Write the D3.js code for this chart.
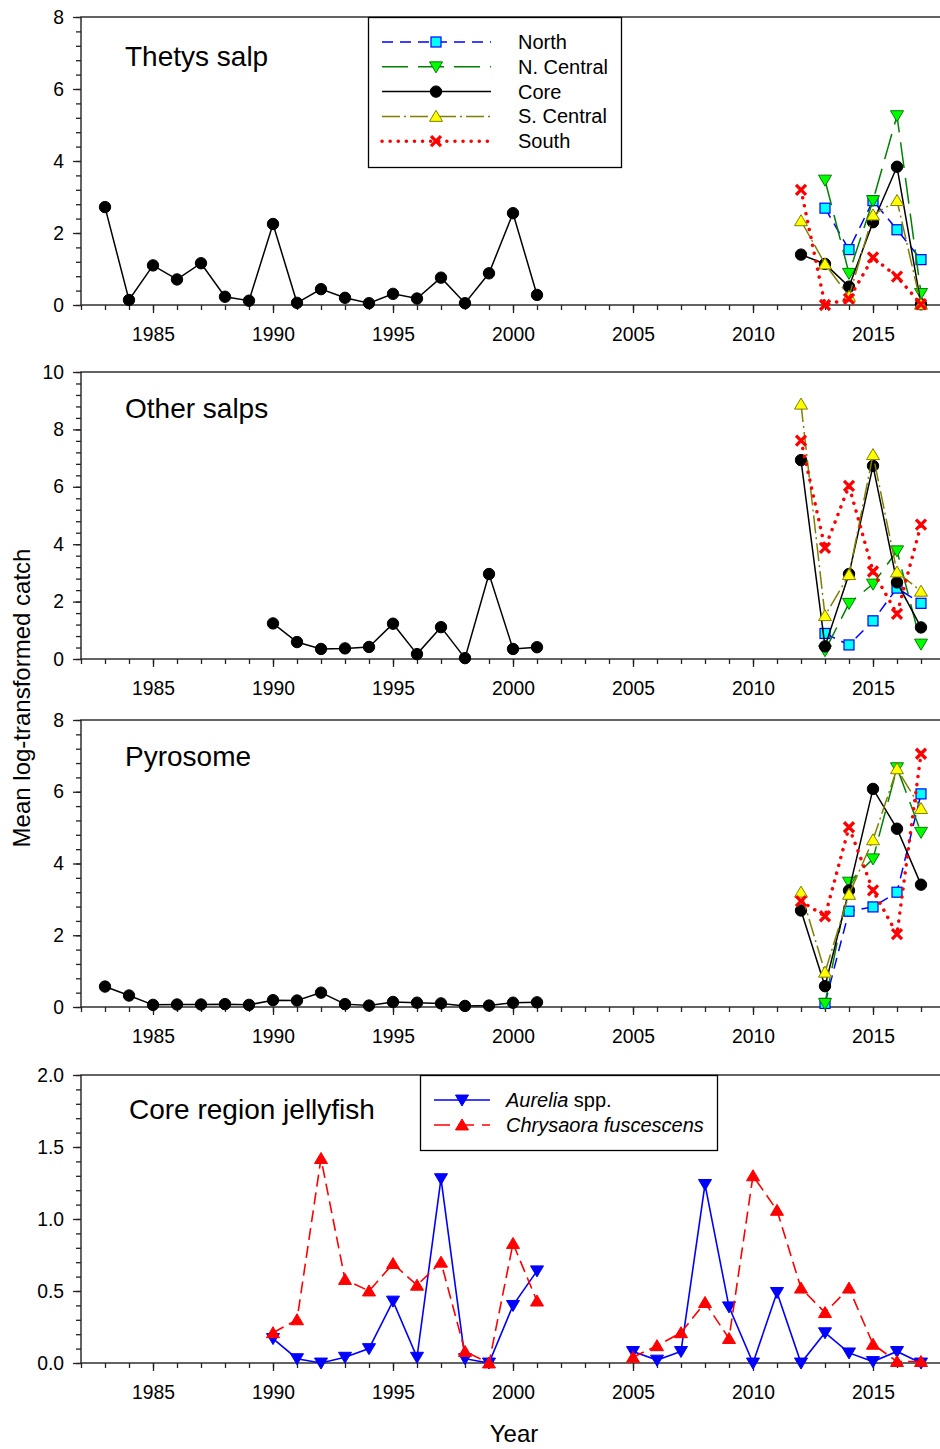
<!DOCTYPE html>
<html>
<head>
<meta charset="utf-8">
<script src="https://cdn.jsdelivr.net/npm/d3@7"></script>
<style>
body { margin: 0; background: #fff; }
svg { font-family: "Liberation Sans", Arial, sans-serif; }
.frame { fill: none; stroke: #222; stroke-width: 1.4; }
.tick line { stroke: #222; stroke-width: 1.3; }
.domain { display: none; }
.tick text { font-size: 19.3px; fill: #000; }
</style>
</head>
<body>
<div id="chart"></div>
<script>

// years
var yearsHist = [1983, 1984, 1985, 1986, 1987, 1988, 1989, 1990, 1991, 1992,
                 1993, 1994, 1995, 1996, 1997, 1998, 1999, 2000, 2001];
var yearsSalpHist = [1990, 1991, 1992, 1993, 1994, 1995, 1996, 1997, 1998, 1999, 2000, 2001];
var yearsRecent = [2012, 2013, 2014, 2015, 2016, 2017];
var yearsJelly1 = [1990, 1991, 1992, 1993, 1994, 1995, 1996, 1997, 1998, 1999, 2000, 2001];
var yearsJelly2 = [2005, 2006, 2007, 2008, 2009, 2010, 2011, 2012, 2013, 2014, 2015, 2016, 2017];

var regions = ["North", "N. Central", "Core", "S. Central", "South"];

// Thetys salp
var thetysCoreHist = [2.72, 0.14, 1.10, 0.71, 1.16, 0.23, 0.12, 2.25, 0.06, 0.44,
                      0.20, 0.05, 0.31, 0.18, 0.76, 0.05, 0.88, 2.55, 0.28];
var thetysNorth    = [null, 2.69, 1.54, 2.90, 2.09, 1.26];
var thetysNCentral = [null, 3.47, 0.88, 2.90, 5.26, 0.32];
var thetysCore     = [1.40, 1.14, 0.51, 2.30, 3.84, 0.02];
var thetysSCentral = [2.34, 1.14, 0.24, 2.50, 2.90, 0.02];
var thetysSouth    = [3.20, 0.00, 0.17, 1.32, 0.79, 0.02];

// Other salps
var salpCoreHist = [1.24, 0.59, 0.35, 0.37, 0.42, 1.23, 0.17, 1.11, 0.03, 2.96, 0.35, 0.41];
var salpNorth    = [null, 0.89, 0.49, 1.33, 2.47, 1.94];
var salpNCentral = [null, 0.29, 1.94, 2.61, 3.77, 0.52];
var salpCore     = [6.93, 0.44, 2.96, 6.73, 2.67, 1.10];
var salpSCentral = [8.88, 1.51, 2.94, 7.12, 3.03, 2.36];
var salpSouth    = [7.61, 3.87, 6.03, 3.05, 1.57, 4.68];

// Pyrosome
var pyroCoreHist = [0.57, 0.32, 0.06, 0.07, 0.07, 0.08, 0.06, 0.19, 0.18, 0.40,
                    0.08, 0.04, 0.14, 0.12, 0.10, 0.03, 0.04, 0.12, 0.13];
var pyroNorth    = [null, 0.10, 2.67, 2.79, 3.20, 5.94];
var pyroNCentral = [null, 0.10, 3.48, 4.13, 6.67, 4.87];
var pyroCore     = [2.69, 0.58, 3.25, 6.08, 4.97, 3.41];
var pyroSCentral = [3.20, 0.97, 3.14, 4.66, 6.64, 5.53];
var pyroSouth    = [2.95, 2.53, 5.01, 3.25, 2.03, 7.06];

// Core region jellyfish
var aurelia1    = [0.17, 0.03, 0.00, 0.04, 0.10, 0.43, 0.04, 1.28, 0.03, 0.00, 0.40, 0.64];
var aurelia2    = [0.08, 0.02, 0.08, 1.24, 0.39, 0.00, 0.49, 0.00, 0.21, 0.07, 0.01, 0.08, 0.00];
var chrysaora1  = [0.21, 0.30, 1.42, 0.58, 0.50, 0.69, 0.54, 0.70, 0.08, 0.00, 0.83, 0.43];
var chrysaora2  = [0.04, 0.12, 0.21, 0.42, 0.17, 1.30, 1.06, 0.52, 0.35, 0.52, 0.13, 0.01, 0.01];

var xTicksMajor = [1985, 1990, 1995, 2000, 2005, 2010, 2015];

var W = 940, H = 1449;

var svg = d3.select("#chart").append("svg")
    .attr("width", W)
    .attr("height", H);

var x = d3.scaleLinear().domain([1982, 2018]).range([81, 945]);

var styles = {
  "North":      {line: "#0000ff", dash: "11,7", width: 1.5, shape: "square", fill: "#00ffff", stroke: "#0000ff"},
  "N. Central": {line: "#008000", dash: "26,10", width: 1.5, shape: "down", fill: "#00ff00", stroke: "#008000"},
  "Core":       {line: "#000000", dash: null, width: 1.5, shape: "circle", fill: "#000000", stroke: "#000000"},
  "S. Central": {line: "#808000", dash: "18,4,2,4", width: 1.5, shape: "up", fill: "#ffff00", stroke: "#808000"},
  "South":      {line: "#ff0000", dash: "0.1,8", width: 3.5, cap: "round", shape: "x", fill: "none", stroke: "#ff0000"},
  "Aurelia":    {line: "#0000ff", dash: null, width: 1.6, shape: "down", fill: "#0000ff", stroke: "#0000ff"},
  "Chrysaora":  {line: "#ff0000", dash: "12,6", width: 1.6, shape: "up", fill: "#ff0000", stroke: "#ff0000"}
};

function pairs(years, vals) {
  return years.map(function(y, i) { return {year: y, v: vals[i]}; })
    .filter(function(d) { return d.v != null; });
}

var panels = [
  {title: "Thetys salp", top: 17, bottom: 305, ymax: 8, major: 2, minor: 0.4, fmt: d3.format("d"), tx: 125, ty: 66,
   series: [
     {key: "Core", data: pairs(yearsHist, thetysCoreHist)},
     {key: "North", data: pairs(yearsRecent, thetysNorth)},
     {key: "N. Central", data: pairs(yearsRecent, thetysNCentral)},
     {key: "Core", data: pairs(yearsRecent, thetysCore)},
     {key: "S. Central", data: pairs(yearsRecent, thetysSCentral)},
     {key: "South", data: pairs(yearsRecent, thetysSouth)}
   ]},
  {title: "Other salps", top: 372, bottom: 659, ymax: 10, major: 2, minor: 0.4, fmt: d3.format("d"), tx: 125, ty: 418,
   series: [
     {key: "Core", data: pairs(yearsSalpHist, salpCoreHist)},
     {key: "North", data: pairs(yearsRecent, salpNorth)},
     {key: "N. Central", data: pairs(yearsRecent, salpNCentral)},
     {key: "Core", data: pairs(yearsRecent, salpCore)},
     {key: "S. Central", data: pairs(yearsRecent, salpSCentral)},
     {key: "South", data: pairs(yearsRecent, salpSouth)}
   ]},
  {title: "Pyrosome", top: 720, bottom: 1007, ymax: 8, major: 2, minor: 0.4, fmt: d3.format("d"), tx: 125, ty: 766,
   series: [
     {key: "Core", data: pairs(yearsHist, pyroCoreHist)},
     {key: "North", data: pairs(yearsRecent, pyroNorth)},
     {key: "N. Central", data: pairs(yearsRecent, pyroNCentral)},
     {key: "Core", data: pairs(yearsRecent, pyroCore)},
     {key: "S. Central", data: pairs(yearsRecent, pyroSCentral)},
     {key: "South", data: pairs(yearsRecent, pyroSouth)}
   ]},
  {title: "Core region jellyfish", top: 1075, bottom: 1363, ymax: 2, major: 0.5, minor: 0.1, fmt: d3.format(".1f"), tx: 129, ty: 1119,
   series: [
     {key: "Aurelia", data: pairs(yearsJelly1, aurelia1)},
     {key: "Aurelia", data: pairs(yearsJelly2, aurelia2)},
     {key: "Chrysaora", data: pairs(yearsJelly1, chrysaora1)},
     {key: "Chrysaora", data: pairs(yearsJelly2, chrysaora2)}
   ]}
];

function drawMarker(g, st, cx, cy) {
  if (st.shape === "circle") {
    g.append("circle").attr("cx", cx).attr("cy", cy).attr("r", 5.7)
      .attr("fill", st.fill).attr("stroke", st.stroke).attr("stroke-width", 1);
  } else if (st.shape === "square") {
    g.append("rect").attr("x", cx - 5).attr("y", cy - 5).attr("width", 10).attr("height", 10)
      .attr("fill", st.fill).attr("stroke", st.stroke).attr("stroke-width", 1.2);
  } else if (st.shape === "up" || st.shape === "down") {
    var s = st.shape === "up" ? 1 : -1;
    var h = 11, w = 13;
    var pts = [[cx, cy - s * h * 0.55], [cx - w / 2, cy + s * h * 0.45], [cx + w / 2, cy + s * h * 0.45]];
    g.append("path").attr("d", "M" + pts.join("L") + "Z")
      .attr("fill", st.fill).attr("stroke", st.stroke).attr("stroke-width", 1);
  } else if (st.shape === "x") {
    var r = 5;
    g.append("path")
      .attr("d", "M" + (cx - r) + "," + (cy - r) + "L" + (cx + r) + "," + (cy + r) +
                 "M" + (cx - r) + "," + (cy + r) + "L" + (cx + r) + "," + (cy - r))
      .attr("stroke", st.stroke).attr("stroke-width", 3.3).attr("fill", "none");
  }
}

panels.forEach(function(p) {
  var y = d3.scaleLinear().domain([0, p.ymax]).range([p.bottom, p.top]);
  var g = svg.append("g");

  g.append("rect").attr("class", "frame")
    .attr("x", 81).attr("y", p.top)
    .attr("width", 945 - 81).attr("height", p.bottom - p.top);

  var yearTicks = d3.range(1982, 2019);
  g.append("g").attr("transform", "translate(0," + p.bottom + ")")
    .call(d3.axisBottom(x).tickValues(yearTicks).tickSize(5).tickFormat(""));
  g.append("g").attr("transform", "translate(0," + p.bottom + ")")
    .call(d3.axisBottom(x).tickValues(xTicksMajor).tickSize(8).tickPadding(14).tickFormat(d3.format("d")));

  var minorTicks = d3.range(0, p.ymax + 1e-9, p.minor);
  var majorTicks = d3.range(0, p.ymax + 1e-9, p.major);
  g.append("g").attr("transform", "translate(81,0)")
    .call(d3.axisLeft(y).tickValues(minorTicks).tickSize(5).tickFormat(""));
  g.append("g").attr("transform", "translate(81,0)")
    .call(d3.axisLeft(y).tickValues(majorTicks).tickSize(8).tickPadding(9).tickFormat(p.fmt));

  g.append("text").attr("x", p.tx).attr("y", p.ty)
    .style("font-size", "28px").text(p.title);

  var line = d3.line().x(function(d) { return x(d.year); }).y(function(d) { return y(d.v); });

  p.series.forEach(function(s) {
    var st = styles[s.key];
    var sg = g.append("g");
    sg.append("path").datum(s.data)
      .attr("d", line)
      .attr("fill", "none")
      .attr("stroke", st.line)
      .attr("stroke-width", st.width)
      .attr("stroke-dasharray", st.dash)
      .attr("stroke-linecap", st.cap || "butt");
    s.data.forEach(function(d) { drawMarker(sg, st, x(d.year), y(d.v)); });
  });
});

// legend, region panel
var lg = svg.append("g");
lg.append("rect").attr("x", 368.5).attr("y", 17.5).attr("width", 253).attr("height", 150)
  .attr("fill", "#fff").attr("stroke", "#000").attr("stroke-width", 1.3);
regions.forEach(function(r, i) {
  var st = styles[r];
  var yy = 42 + i * 24.8;
  lg.append("line").attr("x1", 382).attr("x2", 491).attr("y1", yy).attr("y2", yy)
    .attr("stroke", st.line).attr("stroke-width", st.width)
    .attr("stroke-dasharray", st.dash).attr("stroke-linecap", st.cap || "butt");
  drawMarker(lg, st, 436, yy);
  lg.append("text").attr("x", 518).attr("y", yy + 7).style("font-size", "20px").text(r);
});

// legend, jellyfish panel
var lj = svg.append("g");
lj.append("rect").attr("x", 420.5).attr("y", 1075.5).attr("width", 297).attr("height", 75)
  .attr("fill", "#fff").attr("stroke", "#000").attr("stroke-width", 1.3);
[["Aurelia", "Aurelia", " spp."], ["Chrysaora", "Chrysaora fuscescens", ""]].forEach(function(e, i) {
  var st = styles[e[0]];
  var yy = 1100 + i * 25;
  lj.append("line").attr("x1", 434).attr("x2", 490).attr("y1", yy).attr("y2", yy)
    .attr("stroke", st.line).attr("stroke-width", st.width)
    .attr("stroke-dasharray", st.dash ? "16,8" : null);
  drawMarker(lj, st, 462, yy);
  var t = lj.append("text").attr("x", 506).attr("y", yy + 7).style("font-size", "20px");
  t.append("tspan").style("font-style", "italic").text(e[1]);
  if (e[2]) t.append("tspan").text(e[2]);
});

// axis titles
svg.append("text")
  .attr("transform", "translate(30,698) rotate(-90)")
  .attr("text-anchor", "middle")
  .style("font-size", "24px")
  .text("Mean log-transformed catch");

svg.append("text")
  .attr("x", 514).attr("y", 1442)
  .attr("text-anchor", "middle")
  .style("font-size", "24px")
  .text("Year");

</script>
</body>
</html>
